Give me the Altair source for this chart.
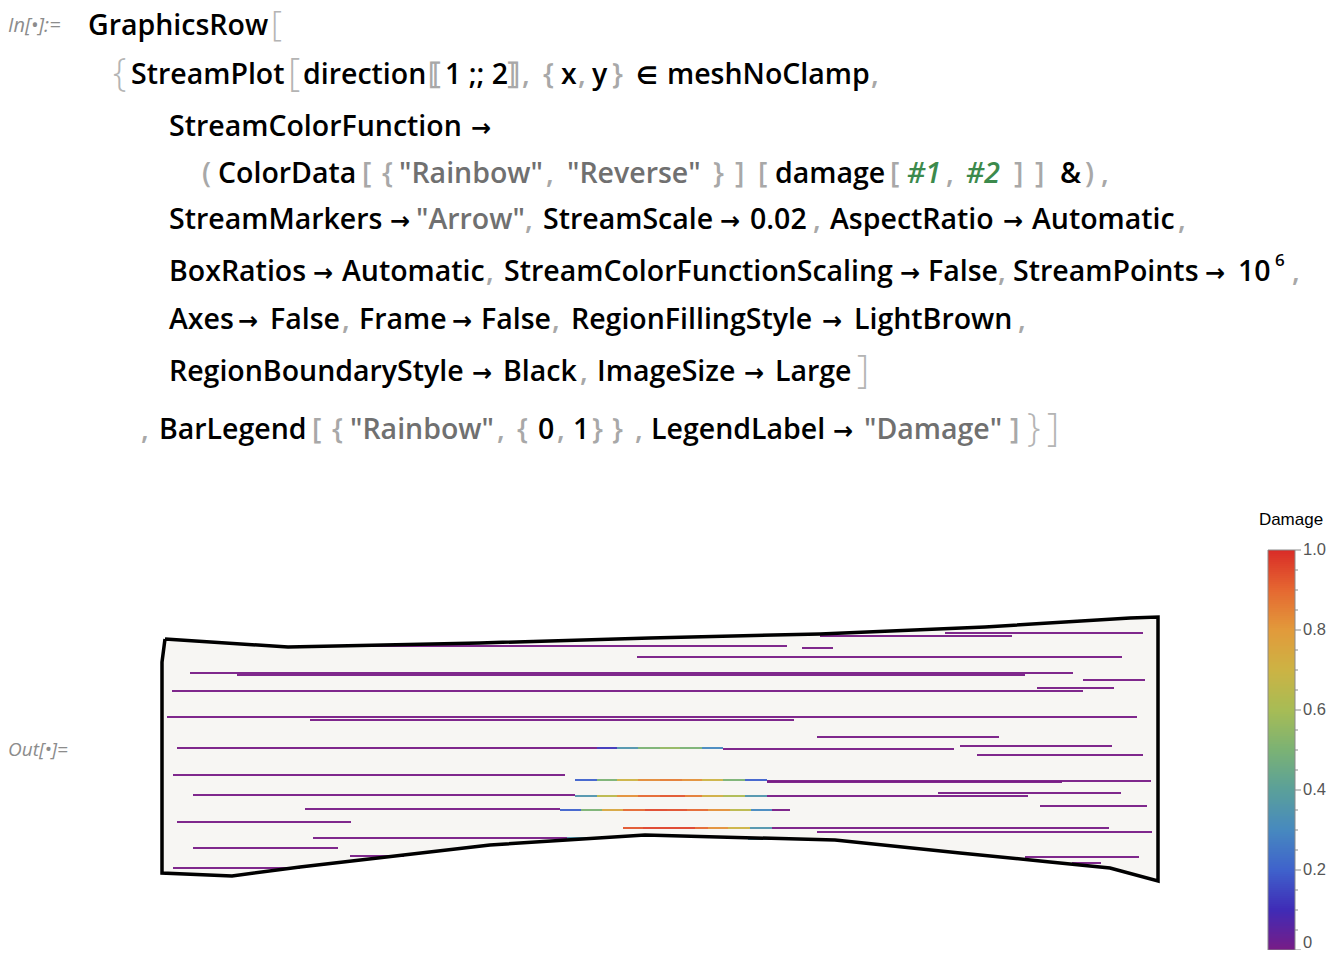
import altair as alt
import pandas as pd
import numpy as np

# ---------------- stream-plot region (picture coordinates) ----------------
boundary_x = [165, 288, 480, 650, 820, 985, 1130, 1158, 1158, 1110, 1050, 960, 835, 645, 490, 300, 232, 162, 162, 165]
boundary_y = [639, 647, 643, 638, 634, 627, 618, 617, 881, 868, 862, 853, 840, 835, 845, 867, 876, 873, 662, 639]

# undamaged (purple) streamlines
plain_y  = [646, 648, 636, 633, 657, 673, 675, 680, 691, 688, 717, 720, 737, 748, 749, 746, 755, 775,
            781, 782, 795, 796, 793, 809, 810, 806, 822, 828, 832, 838, 839, 848, 856, 868, 857, 863]
plain_x1 = [330, 802, 820, 945, 637, 190, 237, 1083, 172, 1037, 167, 310, 817, 177, 723, 960, 977, 173,
            767, 767, 193, 767, 938, 305, 772, 1040, 177, 772, 817, 313, 768, 193, 350, 173, 1025, 1072]
plain_x2 = [787, 833, 1012, 1143, 1122, 1073, 1025, 1145, 1083, 1114, 1137, 794, 999, 597, 954, 1112, 1143, 565,
            1151, 1062, 575, 1028, 1121, 560, 790, 1147, 351, 1109, 1152, 567, 797, 338, 404, 300, 1139, 1101]

# damaged stretches of streamlines
dmg_y  = [748] * 6 + [780] * 9 + [796] * 9 + [810] * 10 + [828] * 6 + [838] * 2 + [839]
dmg_x1 = [597, 617, 638, 660, 680, 702,
          575, 597, 617, 638, 660, 682, 702, 723, 745,
          575, 597, 617, 638, 660, 685, 702, 723, 745,
          560, 581, 602, 623, 645, 667, 687, 708, 730, 751,
          623, 643, 695, 708, 728, 750,
          567, 589,
          748]
dmg_x2 = [617, 638, 660, 680, 702, 723,
          597, 617, 638, 660, 682, 702, 723, 745, 767,
          597, 617, 638, 660, 685, 702, 723, 745, 767,
          581, 602, 623, 645, 667, 687, 708, 730, 751, 772,
          643, 695, 708, 728, 750, 772,
          589, 607,
          768]
dmg_val = [0.12, 0.35, 0.50, 0.56, 0.50, 0.30,
           0.20, 0.50, 0.70, 0.83, 0.86, 0.82, 0.70, 0.50, 0.20,
           0.35, 0.65, 0.82, 0.90, 0.93, 0.86, 0.72, 0.62, 0.35,
           0.20, 0.50, 0.75, 0.90, 0.95, 0.94, 0.90, 0.82, 0.65, 0.30,
           0.93, 0.96, 0.90, 0.82, 0.70, 0.35,
           0.35, 0.65,
           0.35]

# "Rainbow" colour scheme
rb_stops  = [0.0, 0.1, 0.2, 0.3, 0.4, 0.5, 0.6, 0.7, 0.8, 0.9, 1.0]
rb_colors = ["#781c86", "#3f2bb6", "#3f62cc", "#4789bf", "#5aa09a", "#7bb274",
             "#a7bc55", "#ccb344", "#e29a3b", "#e56831", "#d92b27"]

# legend
legend_major = [0.0, 0.2, 0.4, 0.6, 0.8, 1.0]
legend_major_lbl = ["0", "0.2", "0.4", "0.6", "0.8", "1.0"]
legend_minor = [0.05, 0.1, 0.15, 0.25, 0.3, 0.35, 0.45, 0.5, 0.55, 0.65, 0.7, 0.75, 0.85, 0.9, 0.95]

# ---------------- notebook input text ----------------
line_y = [26, 75, 127, 174, 220, 272, 320, 372, 430]
segments = [
    (0, 8, "In[•]:=", "label"), (0, 88, "GraphicsRow", "code"), (0, 271, "[", "big0"),
    (1, 113, "{", "big"), (1, 131, "StreamPlot", "code"), (1, 288, "[", "big"),
    (1, 303, "direction", "code"), (1, 428, "⟦", "punct"), (1, 445, "1 ;; 2", "code"),
    (1, 506, "⟧", "punct"), (1, 522, ",", "punct"), (1, 543, "{", "punct"), (1, 561, "x", "code"),
    (1, 578, ",", "punct"), (1, 592, "y", "code"), (1, 612, "}", "punct"),
    (1, 636, "∈", "sym"), (1, 667, "meshNoClamp", "code"), (1, 871, ",", "punct"),
    (2, 169, "StreamColorFunction", "code"), (2, 471, "→", "sym"),
    (3, 202, "(", "punct"), (3, 218, "ColorData", "code"), (3, 362, "[", "punct"), (3, 382, "{", "punct"),
    (3, 399, "\"Rainbow\"", "str"), (3, 546, ",", "punct"), (3, 567, "\"Reverse\"", "str"),
    (3, 713, "}", "punct"), (3, 735, "]", "punct"), (3, 758, "[", "punct"), (3, 775, "damage", "code"),
    (3, 890, "[", "punct"), (3, 907, "#1", "arg"), (3, 946, ",", "punct"), (3, 966, "#2", "arg"),
    (3, 1014, "]", "punct"), (3, 1035, "]", "punct"), (3, 1060, "&", "code"), (3, 1085, ")", "punct"),
    (3, 1101, ",", "punct"),
    (4, 169, "StreamMarkers", "code"), (4, 390, "→", "sym"), (4, 416, "\"Arrow\"", "str"),
    (4, 525, ",", "punct"), (4, 543, "StreamScale", "code"), (4, 720, "→", "sym"), (4, 750, "0.02", "code"),
    (4, 813, ",", "punct"), (4, 830, "AspectRatio", "code"), (4, 1003, "→", "sym"),
    (4, 1032, "Automatic", "code"), (4, 1178, ",", "punct"),
    (5, 169, "BoxRatios", "code"), (5, 313, "→", "sym"), (5, 342, "Automatic", "code"), (5, 486, ",", "punct"),
    (5, 504, "StreamColorFunctionScaling", "code"), (5, 900, "→", "sym"), (5, 928, "False", "code"),
    (5, 998, ",", "punct"), (5, 1013, "StreamPoints", "code"), (5, 1205, "→", "sym"),
    (5, 1238, "10", "code"), (5, 1292, ",", "punct"),
    (6, 169, "Axes", "code"), (6, 238, "→", "sym"), (6, 270, "False", "code"), (6, 342, ",", "punct"),
    (6, 359, "Frame", "code"), (6, 452, "→", "sym"), (6, 481, "False", "code"), (6, 552, ",", "punct"),
    (6, 571, "RegionFillingStyle", "code"), (6, 822, "→", "sym"), (6, 854, "LightBrown", "code"),
    (6, 1018, ",", "punct"),
    (7, 169, "RegionBoundaryStyle", "code"), (7, 472, "→", "sym"), (7, 503, "Black", "code"),
    (7, 580, ",", "punct"), (7, 597, "ImageSize", "code"), (7, 744, "→", "sym"), (7, 775, "Large", "code"),
    (7, 857, "]", "big"),
    (8, 141, ",", "punct"), (8, 159, "BarLegend", "code"), (8, 312, "[", "punct"), (8, 332, "{", "punct"),
    (8, 350, "\"Rainbow\"", "str"), (8, 497, ",", "punct"), (8, 517, "{", "punct"), (8, 538, "0", "code"),
    (8, 557, ",", "punct"), (8, 573, "1", "code"), (8, 592, "}", "punct"), (8, 612, "}", "punct"),
    (8, 635, ",", "punct"), (8, 651, "LegendLabel", "code"), (8, 833, "→", "sym"),
    (8, 864, "\"Damage\"", "str"),
    (8, 1010, "]", "punct"), (8, 1027, "}", "big"), (8, 1047, "]", "big"),
]
code_line  = [s[0] for s in segments]
code_x     = [s[1] for s in segments]
code_text  = [s[2] for s in segments]
code_style = [s[3] for s in segments]

# ---------------- build tables ----------------
X = alt.Scale(domain=[8, 1328], nice=False, zero=False)
Y = alt.Scale(domain=[950, 8], nice=False, zero=False)
CB = alt.Scale(domain=[0, 1], range=[942, 542], nice=False, zero=False)
C = alt.Scale(domain=rb_stops, range=rb_colors, interpolate="rgb")

poly_df = pd.DataFrame({"x": boundary_x, "y": boundary_y, "i": list(range(len(boundary_x)))})
streams_df = pd.concat([
    pd.DataFrame({"y": plain_y, "x1": plain_x1, "x2": plain_x2, "damage": [0.0] * len(plain_y)}),
    pd.DataFrame({"y": dmg_y, "x1": dmg_x1, "x2": dmg_x2, "damage": dmg_val}),
], ignore_index=True)

text_df = pd.DataFrame({
    "x": code_x,
    "y": [line_y[l] for l in code_line],
    "t": code_text,
    "s": code_style,
})
sup_df = pd.DataFrame({"x": [1275], "y": [261], "t": ["6"]})
out_df = pd.DataFrame({"x": [8], "y": [750], "t": ["Out[•]="]})

steps = np.arange(0, 1, 0.005)
bar_df = pd.DataFrame({"v": steps, "v2": steps + 0.005, "c": steps + 0.0025})
major_df = pd.DataFrame({"v": legend_major, "lbl": legend_major_lbl})
minor_df = pd.DataFrame({"v": legend_minor})
frame_df = pd.DataFrame({"v": [0.0], "v2": [1.0]})
title_df = pd.DataFrame({"t": ["Damage"]})

FONT = "Open Sans"
SIZE = 28.5

fill_layer = alt.Chart(poly_df).mark_line(fill="#f7f6f3", strokeOpacity=0, interpolate="linear").encode(
    x=alt.X("x:Q", scale=X, axis=None), y=alt.Y("y:Q", scale=Y, axis=None), order="i:Q")
stream_layer = alt.Chart(streams_df).mark_rule(strokeWidth=2, strokeCap="butt", opacity=0.95).encode(
    x=alt.X("x1:Q", scale=X, axis=None), x2="x2:Q",
    y=alt.Y("y:Q", scale=Y, axis=None),
    color=alt.Color("damage:Q", scale=C, legend=None))
outline_layer = alt.Chart(poly_df).mark_line(stroke="black", strokeWidth=3.5, strokeJoin="miter").encode(
    x=alt.X("x:Q", scale=X, axis=None), y=alt.Y("y:Q", scale=Y, axis=None), order="i:Q")

def text_layer(style, color, size, weight=600, italic=False, font=FONT, dy=0):
    return alt.Chart(text_df).transform_filter(alt.datum.s == style).mark_text(
        align="left", baseline="middle", font=font, fontSize=size, fontWeight=weight, dy=dy,
        fontStyle="italic" if italic else "normal", color=color).encode(
        x=alt.X("x:Q", scale=X, axis=None), y=alt.Y("y:Q", scale=Y, axis=None), text="t:N")

code_layer = text_layer("code", "#000000", SIZE)
sym_layer = text_layer("sym", "#000000", 24, weight="bold", font="DejaVu Sans", dy=2)
punct_layer = text_layer("punct", "#a8a8a8", SIZE)
str_layer = text_layer("str", "#707070", SIZE)
arg_layer = text_layer("arg", "#3c8a4c", SIZE, italic=True)
big_layer = text_layer("big", "#b4b4b4", 38, weight=300)
big0_layer = text_layer("big0", "#b4b4b4", 34, weight=300)
label_layer = text_layer("label", "#8c8c8c", 20, weight="normal", italic=True)
sup_layer = alt.Chart(sup_df).mark_text(align="left", baseline="middle", font=FONT, fontSize=17,
                                        fontWeight=600, color="#000000").encode(
    x=alt.X("x:Q", scale=X, axis=None), y=alt.Y("y:Q", scale=Y, axis=None), text="t:N")
out_layer = alt.Chart(out_df).mark_text(align="left", baseline="middle", font=FONT, fontSize=19,
                                        fontStyle="italic", color="#8c8c8c").encode(
    x=alt.X("x:Q", scale=X, axis=None), y=alt.Y("y:Q", scale=Y, axis=None), text="t:N")

bar_layer = alt.Chart(bar_df).mark_rect().encode(
    x=alt.value(1260), x2=alt.value(1287),
    y=alt.Y("v:Q", scale=CB, axis=None), y2="v2:Q",
    color=alt.Color("c:Q", scale=C, legend=None))
frame_layer = alt.Chart(frame_df).mark_rect(fill=None, stroke="#8a8a8a", strokeWidth=1).encode(
    x=alt.value(1260), x2=alt.value(1287),
    y=alt.Y("v:Q", scale=CB, axis=None), y2="v2:Q")
major_layer = alt.Chart(major_df).mark_rule(color="#8a8a8a", strokeWidth=1).encode(
    x=alt.value(1287), x2=alt.value(1293), y=alt.Y("v:Q", scale=CB, axis=None))
minor_layer = alt.Chart(minor_df).mark_rule(color="#8a8a8a", strokeWidth=1).encode(
    x=alt.value(1287), x2=alt.value(1290), y=alt.Y("v:Q", scale=CB, axis=None))
lbl_layer = alt.Chart(major_df).transform_filter(alt.datum.v > 0).mark_text(
    align="left", baseline="middle", font="Liberation Sans", fontSize=16.5, color="#555555").encode(
    x=alt.value(1295), y=alt.Y("v:Q", scale=CB, axis=None), text="lbl:N")
lbl0_layer = alt.Chart(major_df).transform_filter(alt.datum.v == 0).mark_text(
    align="left", baseline="bottom", font="Liberation Sans", fontSize=16.5, color="#555555", dy=1).encode(
    x=alt.value(1295), y=alt.Y("v:Q", scale=CB, axis=None), text="lbl:N")
title_layer = alt.Chart(title_df).mark_text(align="center", baseline="middle", font="Liberation Sans",
                                            fontSize=17, color="#000000").encode(
    x=alt.value(1283), y=alt.value(512), text="t:N")

chart = alt.layer(
    fill_layer, stream_layer, outline_layer,
    code_layer, sym_layer, punct_layer, str_layer, arg_layer, big_layer, big0_layer, label_layer,
    sup_layer, out_layer,
    bar_layer, frame_layer, major_layer, minor_layer, lbl_layer, lbl0_layer, title_layer,
).resolve_scale(y="independent").properties(
    width=1320, height=942, padding=0,
    autosize=alt.AutoSizeParams(type="none"),
    background="white",
).configure_view(stroke=None)

chart.save("out.html", embed_options={"renderer": "svg", "actions": False})
